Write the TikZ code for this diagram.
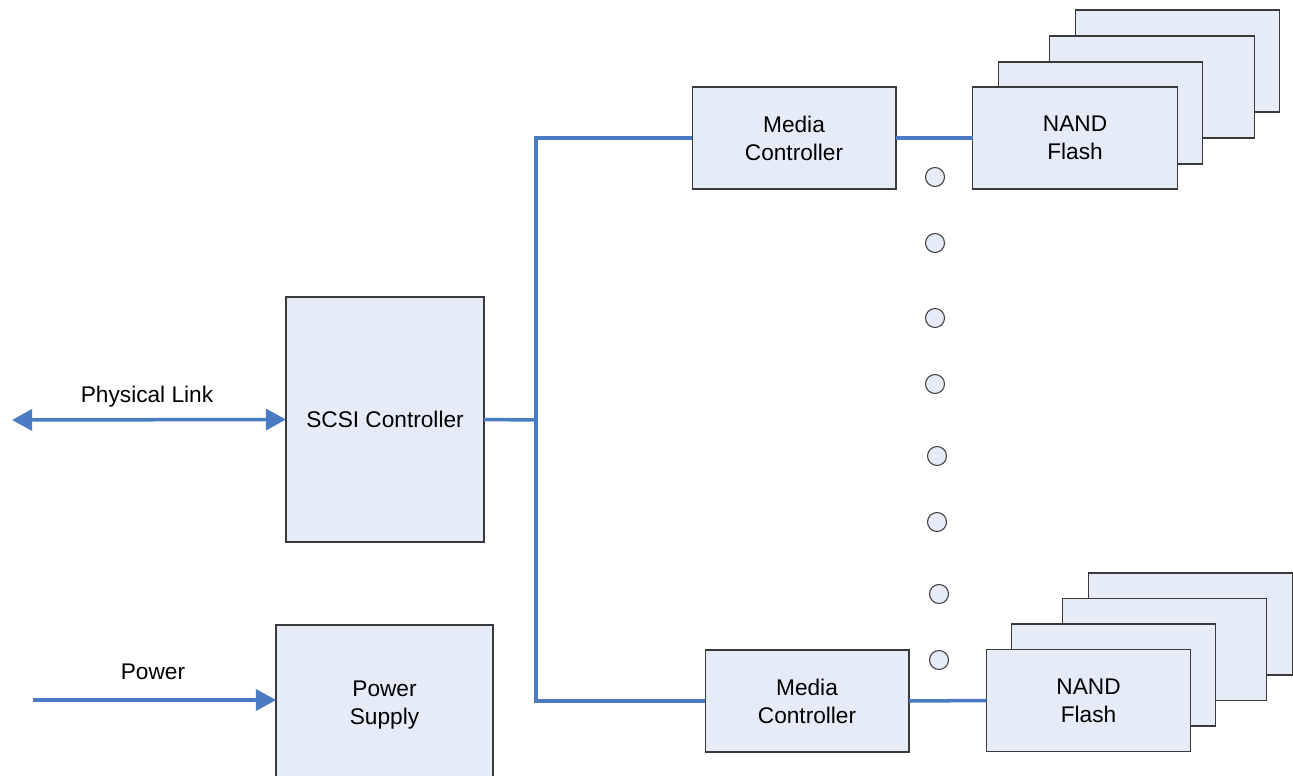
\documentclass[tikz,border=0pt]{standalone}
\usepackage{fontspec}
\setmainfont{Liberation Sans}
\usetikzlibrary{arrows.meta}
\definecolor{boxfill}{HTML}{E6ECF7}
\definecolor{boxline}{HTML}{3A3A3A}
\definecolor{bus}{HTML}{4A7CC4}
\tikzset{
  blk/.style={draw=boxline, fill=boxfill, line width=0.6pt, inner sep=0pt, outer sep=0pt,
    align=center, font=\fontsize{12.9}{15.9}\selectfont},
  card/.style={blk, minimum width=4.08cm, minimum height=2.04cm},
  wire/.style={draw=bus, line width=2pt},
  tip/.style={-{Triangle[length=11.5pt,width=12pt]}},
  tips/.style={{Triangle[length=11.5pt,width=12pt]}-{Triangle[length=11.5pt,width=12pt]}},
  dot/.style={circle, draw=boxline, fill=boxfill, line width=0.6pt, minimum size=0.38cm, inner sep=0pt},
  lab/.style={font=\fontsize{12.9}{15.9}\selectfont},
}
\begin{document}
\begin{tikzpicture}[x=0.02cm, y=-0.02cm]
  \useasboundingbox (0,0) rectangle (1293,776);
  \clip (0,0) rectangle (1293,776);
  % host side
  \node[blk, minimum width=3.96cm, minimum height=4.9cm] (scsi) at (385,419.5) {SCSI Controller};
  \node[blk, minimum width=4.34cm, minimum height=3.2cm] (psu) at (384.5,705) {Power\\Supply};
  \coordinate (linkL) at (12,420);
  \coordinate (pwrIn) at (33,700);
  \draw[wire, tips] (linkL) -- (scsi.west);
  \draw[wire, tip] (pwrIn) -- (pwrIn -| psu.west);
  \node[lab] (linklab) at (147,397) {Physical Link};
  \node[lab] (pwrlab) at (153,672) {Power};
  % flash stacks, back to front
  \foreach \i/\x/\y in {4/1177.5/61, 3/1152/87, 2/1100.5/113}
    \node[card, minimum width=4.09cm] (nandT\i) at (\x,\y) {};
  \node[card, minimum width=4.09cm] (nandT) at (1075,138) {NAND\\Flash};
  \foreach \i/\x/\y in {4/1190.5/624, 3/1164.5/649.5, 2/1113.5/675}
    \node[card, minimum width=4.09cm] (nandB\i) at (\x,\y) {};
  \node[card, minimum width=4.09cm] (nandB) at (1088.5,700.5) {NAND\\Flash};
  % media controllers
  \node[card] (mcT) at (794,138) {Media\\Controller};
  \node[card] (mcB) at (807,701) {Media\\Controller};
  % bus
  \coordinate (bus) at (536,420);
  \draw[wire] (scsi.east) -- (bus);
  \draw[wire] (bus) |- (mcT.west);
  \draw[wire] (bus) |- (mcB.west);
  \draw[wire] (mcT.east) -- (nandT.west);
  \draw[wire] (mcB.east) -- (nandB.west);
  % ellipsis
  \foreach \i/\x/\y in {1/935/177, 2/935/243, 3/935/318, 4/935/384, 5/937/456, 6/937/522, 7/939/594, 8/939/660}
    \node[dot] (gap\i) at (\x,\y) {};
\end{tikzpicture}
\end{document}
